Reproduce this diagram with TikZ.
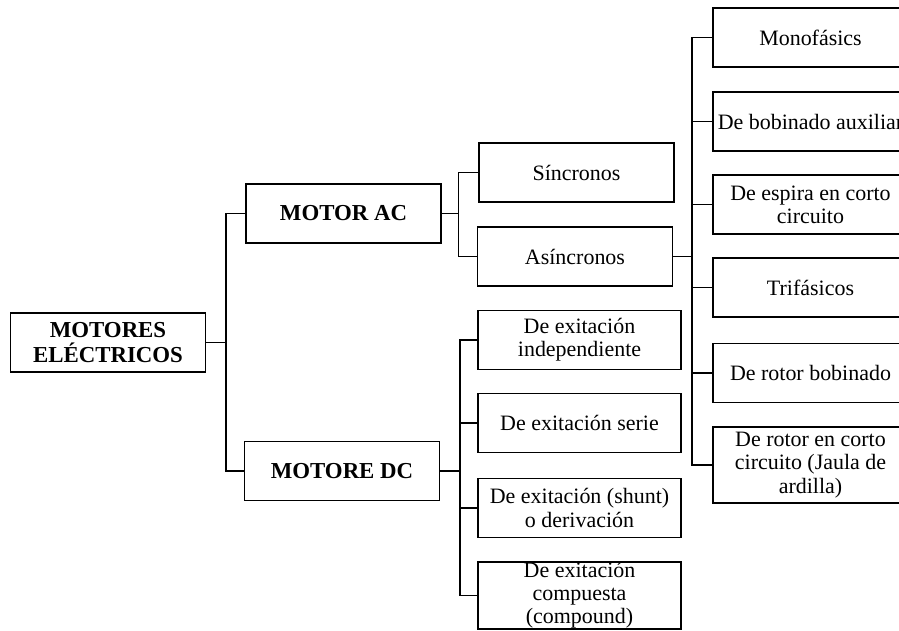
\documentclass[tikz,border=0pt]{standalone}
\usepackage{fontspec}
\setmainfont{Liberation Serif}
\begin{document}
\begin{tikzpicture}[
    x=0.02cm, y=-0.02cm,
    every node/.style={
        draw,
        line width=0.8pt,
        align=center,
        inner xsep=1pt,
        inner ysep=0pt,
        minimum width=3.9cm,
        minimum height=1.18cm,
        font=\fontsize{12.5}{13.2}\selectfont
    },
    title/.style={font=\fontsize{13}{14}\selectfont\bfseries},
    dcbox/.style={minimum width=4.06cm},
    link/.style={line width=0.8pt}
]
\useasboundingbox (0,0) rectangle (899,631);
\clip (0,0) rectangle (899,631);

% Root
\node[title] (motores) at (108,342.5)
{MOTORES\\ELÉCTRICOS};

% Motor kinds
\node[title] (ac) at (343.5,213.5)
{MOTOR AC};

\node[title] (dc) at (342,471)
{MOTORE DC};

% AC motors
\node (sinc) at (576.5,172.5)
{Síncronos};

\node (asinc) at (575,256.5)
{Asíncronos};

% Asincronos
\node (mono) at (810.5,37.5)
{Monofásics};

\node (bobaux) at (810.5,121.5)
{De bobinado auxiliar};

\node (espira) at (810.5,204.5)
{De espira en corto\\circuito};

\node (trif) at (810.5,287.5)
{Trifásicos};

\node (rotbob) at (810.5,373)
{De rotor bobinado};

\node[minimum height=1.52cm] (rotcc) at (810.5,465)
{De rotor en corto\\circuito (Jaula de\\ardilla)};

% DC motors
\node[dcbox] (indep) at (579.5,340)
{De exitación\\independiente};

\node[dcbox] (serie) at (579.5,423)
{De exitación serie};

\node[dcbox] (shunt) at (579.5,508)
{De exitación (shunt)\\o derivación};

\node[dcbox, minimum height=1.34cm] (comp) at (579.5,595.5)
{De exitación\\compuesta\\(compound)};

% Connections
\draw[link] (motores.east) -- ++(20,0) |- (ac.west);
\draw[link] (motores.east) -- ++(20,0) |- (dc.west);

\foreach \n in {sinc,asinc}
    \draw[link] (ac.east) -- ++(17,0) |- (\n.west);

\foreach \n in {mono,bobaux,espira,trif,rotbob,rotcc}
    \draw[link] (asinc.east) -- ++(19,0) |- (\n.west);

\foreach \n in {indep,serie,shunt,comp}
    \draw[link] (dc.east) -- ++(20,0) |- (\n.west);

\end{tikzpicture}
\end{document}
